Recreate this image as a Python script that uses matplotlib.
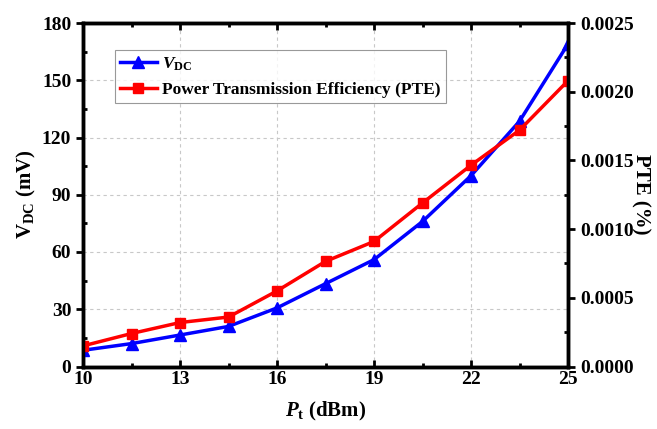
import matplotlib
matplotlib.use("Agg")
import matplotlib.pyplot as plt
from matplotlib.ticker import MultipleLocator, FormatStrFormatter

# Data
pt_dbm = [10, 11.5, 13, 14.5, 16, 17.5, 19, 20.5, 22, 23.5, 25]
vdc_mv = [8.5, 12, 16.5, 21, 30.7, 43.4, 56, 76, 100, 128.5, 169]
pte_pct = [0.00015, 0.00024, 0.00032, 0.00036, 0.00055, 0.000765,
           0.00091, 0.00119, 0.001465, 0.00172, 0.00208]

plt.rcParams["font.family"] = "Liberation Serif"
plt.rcParams["font.weight"] = "bold"
plt.rcParams["mathtext.fontset"] = "custom"
plt.rcParams["mathtext.rm"] = "Liberation Serif:bold"
plt.rcParams["mathtext.bf"] = "Liberation Serif:bold"
plt.rcParams["mathtext.it"] = "Liberation Serif:italic:bold"

fig = plt.figure(figsize=(6.57, 4.29), dpi=100)
ax = fig.add_axes([83 / 657, 1 - 366.5 / 429, 485 / 657, 343.5 / 429])
ax2 = ax.twinx()

l1, = ax.plot(pt_dbm, vdc_mv, color="#0000ff", marker="^", markersize=8,
              linewidth=2.5, label=r"$V_{\mathrm{DC}}$", zorder=3)
l2, = ax2.plot(pt_dbm, pte_pct, color="#ff0000", marker="s", markersize=7,
               linewidth=2.5, label="Power Transmission Efficiency (PTE)")

ax.set_xlim(10, 25)
ax.set_ylim(0, 180)
ax2.set_ylim(0, 0.0025)

ax.set_xticks(pt_dbm[::2])
ax.set_xticks(pt_dbm[1::2], minor=True)
ax.yaxis.set_major_locator(MultipleLocator(30))
ax.yaxis.set_minor_locator(MultipleLocator(15))
ax2.yaxis.set_major_locator(MultipleLocator(0.0005))
ax2.yaxis.set_minor_locator(MultipleLocator(0.00025))
ax2.yaxis.set_major_formatter(FormatStrFormatter("%.4f"))

ax.grid(True, which="major", linestyle=(0, (3, 3)), color="#c8c8c8", linewidth=0.8)

for a in (ax, ax2):
    for s in a.spines.values():
        s.set_linewidth(2.5)

ax.tick_params(axis="x", which="both", direction="in", top=True, labelsize=14)
ax.tick_params(axis="x", which="major", length=5, width=2)
ax.tick_params(axis="x", which="minor", length=3, width=2)
ax.tick_params(axis="y", which="major", direction="out", length=5, width=2, labelsize=14)
ax.tick_params(axis="y", which="minor", direction="in", length=3, width=2)
ax2.tick_params(axis="y", which="major", direction="out", length=5, width=2, labelsize=14)
ax2.tick_params(axis="y", which="minor", direction="in", length=3, width=2)

ax.set_xlabel(r"$P_{\mathrm{t}}$ (dBm)", fontsize=15, fontweight="bold", labelpad=8)
ax.set_ylabel(r"V$_{\mathrm{DC}}$ (mV)", fontsize=15, fontweight="bold", labelpad=3)
ax2.set_ylabel("PTE (%)", fontsize=15, fontweight="bold", rotation=270, labelpad=12)

# one legend for both axes
leg = ax.legend(handles=[l1, l2], loc="upper left", bbox_to_anchor=(0.066, 0.921),
                borderaxespad=0, fontsize=12.5, frameon=True, fancybox=False,
                edgecolor="#808080", borderpad=0.3, handlelength=2.1,
                labelspacing=0.5, handletextpad=0.3)
leg.get_frame().set_linewidth(0.8)

fig.savefig("out.png", dpi=100)
plt.close(fig)
